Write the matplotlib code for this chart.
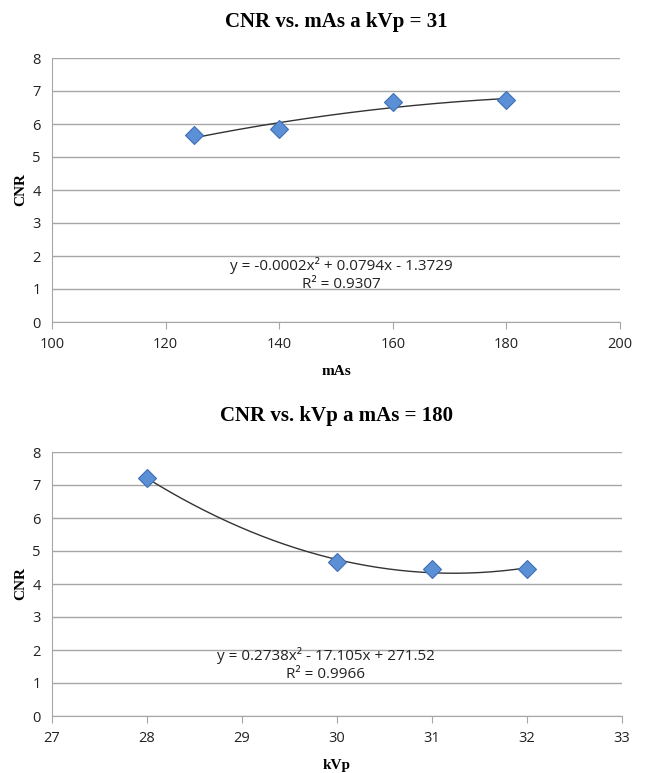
import numpy as np
import matplotlib.pyplot as plt

# data
mas_vals = [125, 140, 160, 180]
cnr_mas = [5.66, 5.85, 6.66, 6.72]
kvp_vals = [28, 30, 31, 32]
cnr_kvp = [7.22, 4.66, 4.45, 4.45]

eq_top = "y = -0.0002x² + 0.0794x - 1.3729\nR² = 0.9307"
eq_bot = "y = 0.2738x² - 17.105x + 271.52\nR² = 0.9966"

W, H = 646, 773
fig = plt.figure(figsize=(W / 100, H / 100), dpi=100)

title_font = dict(family='Liberation Serif', weight='bold')
tick_font = 'Open Sans'
marker_col = '#5b8fd6'
grid_col = '#a6a6a6'


def make_panel(rect, x, y, xlim, xticks, title, xlabel, eq, eq_pos):
    ax = fig.add_axes(rect)
    ax.set_xlim(*xlim)
    ax.set_ylim(0, 8)
    ax.set_xticks(xticks)
    ax.set_yticks(range(0, 9))
    ax.grid(axis='y', color=grid_col, lw=1)
    ax.set_axisbelow(True)
    for s in ['top', 'right']:
        ax.spines[s].set_visible(False)
    for s in ['left', 'bottom']:
        ax.spines[s].set_color(grid_col)
    ax.tick_params(axis='x', direction='out', length=5, color=grid_col, pad=6)
    ax.tick_params(axis='y', length=0, pad=8)
    for lab in ax.get_xticklabels() + ax.get_yticklabels():
        lab.set_fontfamily(tick_font)
        lab.set_fontsize(10.5)
        lab.set_color('#222222')

    # quadratic trendline
    c = np.polyfit(x, y, 2)
    xs = np.linspace(min(x), max(x), 200)
    ax.plot(xs, np.polyval(c, xs), color='#333333', lw=1, zorder=3)
    ax.plot(x, y, linestyle='none', marker='D', markersize=9,
            markerfacecolor=marker_col, markeredgecolor='#3f6fb5',
            markeredgewidth=0.8, zorder=4)

    ax.text(eq_pos[0], eq_pos[1], eq, ha='center', va='center',
            fontfamily=tick_font, fontsize=11, color='#222222',
            linespacing=1.25)

    ax.set_title(title, fontsize=15, pad=22, **title_font)
    ax.set_xlabel(xlabel, fontsize=11, labelpad=9, **title_font)
    ax.set_ylabel('CNR', fontsize=11, labelpad=4, **title_font)
    return ax


make_panel([52 / W, 1 - 322 / H, 568 / W, 264 / H], mas_vals, cnr_mas,
           (100, 200), range(100, 201, 20), 'CNR vs. mAs a kVp = 31', 'mAs',
           eq_top, (150.9, 1.45))

make_panel([52 / W, 1 - 716 / H, 570 / W, 264 / H], kvp_vals, cnr_kvp,
           (27, 33), range(27, 34), 'CNR vs. kVp a mAs = 180', 'kVp',
           eq_bot, (29.88, 1.55))

fig.savefig('out.png', dpi=100)
